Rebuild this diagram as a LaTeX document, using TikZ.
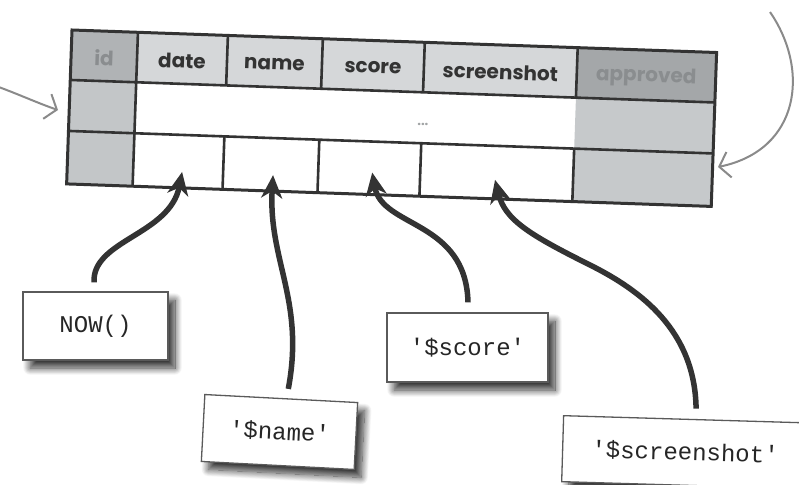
\documentclass[tikz,border=0pt]{standalone}
\usepackage{fontspec}
\newfontfamily\hdrfont{Poppins}
\newfontfamily\monofont{Liberation Mono}
\usetikzlibrary{arrows.meta,shadows.blur,calc}
\definecolor{ink}{HTML}{333333}
\definecolor{boxline}{HTML}{5A5A5A}
\definecolor{hdrfill}{HTML}{D5D7D9}
\definecolor{idhdr}{HTML}{B0B3B5}
\definecolor{aphdr}{HTML}{A4A7A9}
\definecolor{idcol}{HTML}{C3C6C8}
\definecolor{apcol}{HTML}{C6C9CB}
\definecolor{dimtext}{HTML}{8A8D8F}
\definecolor{thingray}{HTML}{8A8A8A}
\begin{document}
\begin{tikzpicture}[x=1pt,y=-1pt,
  gridline/.style={draw=ink,line width=2.6pt},
  hdr/.style={font=\hdrfont\bfseries\fontsize{20}{20}\selectfont, text=ink, rotate=-2, inner sep=0pt},
  monobox/.style={draw=boxline, line width=1.3pt, fill=white, inner sep=0pt,
    font=\monofont\fontsize{24}{24}\selectfont, text=black!85,
    blur shadow={shadow xshift=7pt, shadow yshift=-8pt, shadow blur radius=7pt,
      shadow blur steps=16, shadow opacity=80}},
  bigarrow/.style={draw=ink, line width=5.5pt, -{Stealth[length=23pt,width=21pt,inset=7pt]}},
  thinarrow/.style={draw=thingray, line width=2pt, -{Straight Barb[length=10pt,width=26pt]}}]
\useasboundingbox (0,0) rectangle (799,484);
\clip (0,0) rectangle (799,484);

% table
\begin{scope}[shift={(72,30)},rotate=-2]
  \fill[hdrfill] (66,0) rectangle (506,50);
  \fill[idhdr] (0,0) rectangle (66,50);
  \fill[aphdr] (506,0) rectangle (645,50);
  \fill[idcol] (0,50) rectangle (66,154);
  \fill[apcol] (506,50) rectangle (645,154);
  \draw[gridline] (0,50) -- (645,50) (0,101) -- (645,101) (66,0) -- (66,154)
    (156,0) -- (156,50) (251,0) -- (251,50) (353,0) -- (353,50) (506,0) -- (506,50)
    (156,101) -- (156,154) (251,101) -- (251,154) (353,101) -- (353,154) (506,101) -- (506,154);
  \draw[gridline, line width=3pt] (0,0) rectangle (645,154);
  \node[hdr, text=dimtext] (hid) at (33,27) {id};
  \node[hdr] (hdate) at (111,27) {date};
  \node[hdr] (hname) at (203.5,27) {name};
  \node[hdr] (hscore) at (302,27) {score};
  \node[hdr] (hshot) at (429.5,27) {screenshot};
  \node[hdr, text=dimtext] (happ) at (575.5,27) {approved};
  \node[font=\hdrfont\bfseries\fontsize{13}{13}\selectfont, text=dimtext!80, rotate=-2] (dots) at (354,82) {...};
  \coordinate (tdate) at (115,138);
  \coordinate (tname) at (206,138);
  \coordinate (tscore) at (305,132);
  \coordinate (tshot) at (428,135);
\end{scope}

% thin gray arrows
\coordinate (lstart) at (-4,86);
\coordinate (ltip) at (58,110);
\draw[thinarrow] (lstart) .. controls (18,94) and (40,104) .. (ltip);
\coordinate (rstart) at (770,12);
\coordinate (rtip) at (718,167);
\draw[thinarrow] (rstart) .. controls (810,70) and (800,150) .. (rtip);

% value boxes
\node[monobox, minimum width=145pt, minimum height=68pt] (now) at (95.5,326) {NOW()};
\node[monobox, minimum width=153pt, minimum height=67pt, rotate=-3] (pname) at (279.5,432) {\textquotesingle\$name\textquotesingle};
\node[monobox, minimum width=161pt, minimum height=69pt] (pscore) at (467.5,347.5) {\textquotesingle\$score\textquotesingle};
\node[monobox, minimum width=245pt, minimum height=66pt, rotate=-1.7, anchor=north west] (pshot) at (563,415) {\textquotesingle\$screenshot\textquotesingle};

% thick arrows
\draw[bigarrow] ($(now.north)+(-1.5,-9)$) .. controls (92,240) and (170,235) .. (tdate);
\draw[bigarrow] ($(pname.north)+(7,-9)$) .. controls (305,300) and (268,260) .. (tname);
\draw[bigarrow] ($(pscore.north)+(0.5,-10)$) .. controls (466,220) and (382,228) .. (tscore);
\draw[bigarrow] ($(pshot.north)+(10,-10)$) .. controls (695,330) and (640,290) .. (590,265)
   .. controls (530,235) and (505,220) .. (tshot);
\end{tikzpicture}
\end{document}
